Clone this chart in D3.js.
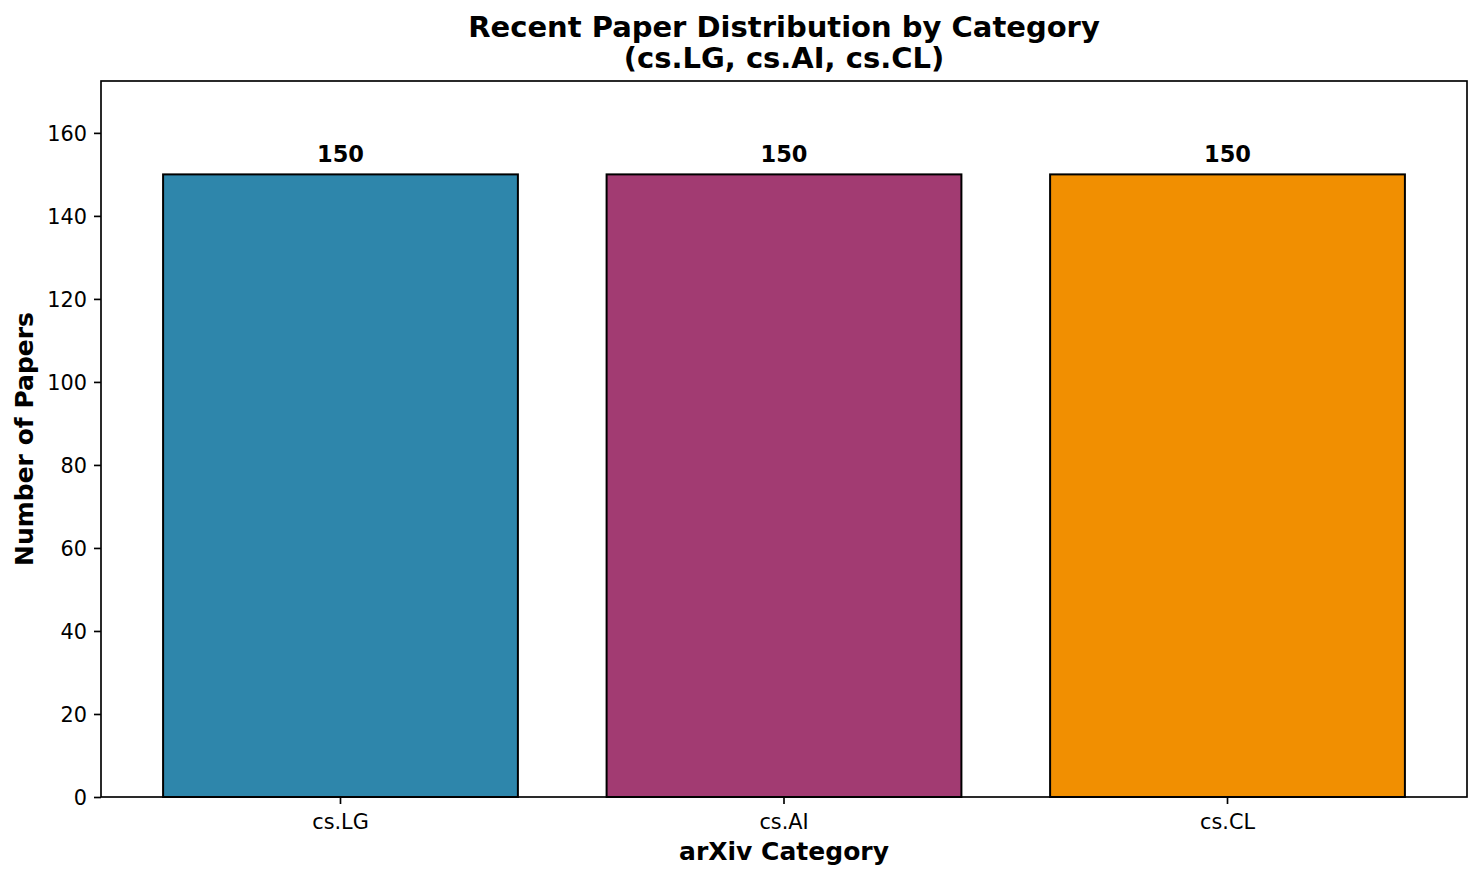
<!DOCTYPE html>
<html>
<head>
<meta charset="utf-8">
<script src="https://cdn.jsdelivr.net/npm/d3@7/dist/d3.min.js"></script>
<style>
  html, body { margin: 0; padding: 0; background: #fff; }
  svg { display: block; font-family: "DejaVu Sans", sans-serif; }
</style>
</head>
<body>
<svg id="chart" width="1482" height="879"></svg>
<script>
const categories = ["cs.LG", "cs.AI", "cs.CL"];
const paperCounts = [150, 150, 150];
const barColors = ["#2E86AB", "#A23B72", "#F18F01"];
const yTicks = [0, 20, 40, 60, 80, 100, 120, 140, 160];
const titleLines = ["Recent Paper Distribution by Category", "(cs.LG, cs.AI, cs.CL)"];
const xLabel = "arXiv Category";
const yLabel = "Number of Papers";

const margin = { left: 101, right: 1467, top: 81, bottom: 797 };

const svg = d3.select("#chart");

const x = d3.scaleBand()
  .domain(categories)
  .range([margin.left, margin.right])
  .paddingInner(0.2)
  .paddingOuter(0.14);

const yMax = d3.max(paperCounts) * 1.15;
const y = d3.scaleLinear().domain([0, yMax]).range([margin.bottom, margin.top]);

// bars
svg.append("g").selectAll("rect")
  .data(categories)
  .join("rect")
  .attr("x", d => x(d))
  .attr("y", (d, i) => y(paperCounts[i]))
  .attr("width", x.bandwidth())
  .attr("height", (d, i) => y(0) - y(paperCounts[i]))
  .attr("fill", (d, i) => barColors[i])
  .attr("stroke", "#000")
  .attr("stroke-width", 2);

// value labels
svg.append("g").selectAll("text")
  .data(categories)
  .join("text")
  .attr("x", d => x(d) + x.bandwidth() / 2)
  .attr("y", (d, i) => y(paperCounts[i]) - 12)
  .attr("text-anchor", "middle")
  .attr("font-size", "22.5px")
  .attr("font-weight", "bold")
  .attr("fill", "#000")
  .text((d, i) => paperCounts[i]);

// axes
const xAxis = svg.append("g")
  .attr("transform", `translate(0,${margin.bottom})`)
  .call(d3.axisBottom(x).tickSize(7).tickPadding(7).tickSizeOuter(0));
const yAxis = svg.append("g")
  .attr("transform", `translate(${margin.left},0)`)
  .call(d3.axisLeft(y).tickValues(yTicks).tickSize(7).tickPadding(7).tickSizeOuter(0));

[xAxis, yAxis].forEach(g => {
  g.select(".domain").remove();
  g.selectAll(".tick line").attr("stroke", "#000").attr("stroke-width", 1.67);
  g.selectAll(".tick text")
    .attr("font-family", "DejaVu Sans")
    .attr("font-size", "20.8px")
    .attr("fill", "#000");
});
xAxis.selectAll(".tick text").attr("dy", "0.88em");
yAxis.selectAll(".tick text").attr("dy", "0.36em");

// frame
svg.append("rect")
  .attr("x", margin.left)
  .attr("y", margin.top)
  .attr("width", margin.right - margin.left)
  .attr("height", margin.bottom - margin.top)
  .attr("fill", "none")
  .attr("stroke", "#000")
  .attr("stroke-width", 1.67);

// title (single text element, two lines)
const cx = (margin.left + margin.right) / 2;
const title = svg.append("text")
  .attr("x", cx)
  .attr("y", 36.7)
  .attr("text-anchor", "middle")
  .attr("font-size", "29px")
  .attr("font-weight", "bold")
  .attr("fill", "#000");
title.selectAll("tspan")
  .data(titleLines)
  .join("tspan")
  .attr("x", cx)
  .attr("dy", (d, i) => i === 0 ? 0 : 31)
  .text(d => d);

// axis labels
svg.append("text")
  .attr("x", cx)
  .attr("y", 860)
  .attr("text-anchor", "middle")
  .attr("font-size", "25px")
  .attr("font-weight", "bold")
  .text(xLabel);

svg.append("text")
  .attr("transform", `translate(33.3,${(margin.top + margin.bottom) / 2}) rotate(-90)`)
  .attr("text-anchor", "middle")
  .attr("font-size", "25px")
  .attr("font-weight", "bold")
  .text(yLabel);
</script>
</body>
</html>
